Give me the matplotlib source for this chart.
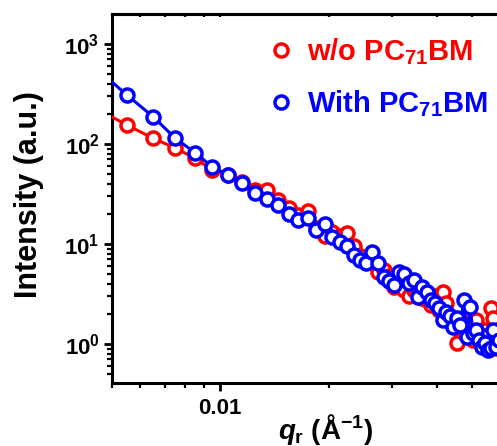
import matplotlib
matplotlib.use("Agg")
import matplotlib.pyplot as plt
from matplotlib.ticker import LogLocator, NullFormatter, FuncFormatter, LogFormatterMathtext
from matplotlib.lines import Line2D

plt.rcParams['font.family'] = ['Liberation Sans', 'DejaVu Sans']
plt.rcParams['font.weight'] = 'bold'
plt.rcParams['mathtext.fontset'] = 'custom'
plt.rcParams['mathtext.rm'] = 'Liberation Sans:bold'
plt.rcParams['mathtext.bf'] = 'Liberation Sans:bold'
plt.rcParams['mathtext.it'] = 'Liberation Sans:bold:italic'
plt.rcParams['mathtext.default'] = 'rm'

# q values (1/Angstrom)
q = [0.0045 + 0.001 * i for i in range(56)]

intensity_without = [
    228, 155, 114, 91, 72, 55, 49, 41.7, 34.7, 34.7,
    27.5, 22.9, 19.5, 21.4, 14.5, 12.0, 13.2, 12.0, 12.9, 9.5,
    7.6, 6.6, 6.6, 5.25, 5.5, 4.8, 3.7, 4.07, 3.47, 3.02,
    3.47, 3.31, 2.88, 2.75, 2.45, 3.02, 2.19, 3.31, 2.57, 1.91,
    1.66, 1.02, 1.74, 1.29, 1.55, 1.38, 1.10, 1.74, 1.10, 0.98,
    1.38, 1.23, 2.29, 1.82, 0.91, 1.23,
]

intensity_with = [
    580, 309, 188, 114, 82, 59, 49, 40.5, 32, 28,
    24.5, 20, 17.4, 18.2, 13.8, 15.8, 11.7, 10.5, 9.55, 7.76,
    6.92, 6.46, 8.32, 6.46, 4.68, 4.27, 3.89, 5.25, 5.01, 4.07,
    4.37, 2.95, 3.72, 3.31, 2.75, 2.57, 2.29, 1.74, 2.09, 1.91,
    1.48, 1.82, 1.55, 2.75, 1.17, 2.34, 1.29, 1.38, 1.10, 0.93,
    1.02, 0.87, 0.91, 1.38, 0.93, 1.10,
]

labels = ['w/o PC$_{71}$BM', 'With PC$_{71}$BM']
colors = ['#ff0000', '#0000ff']

W, H = 497, 446
fig = plt.figure(figsize=(W / 100, H / 100), dpi=100)
ax = fig.add_axes([112 / W, 1 - 383 / H, 1 - 112 / W + 0.002, (383 - 14) / H])

ms, mew, lw = 9.4, 2.5, 2.2
for y, c in zip([intensity_without, intensity_with], colors):
    ax.plot(q, y, '-', color=c, lw=lw, marker='o', ms=ms, mew=mew,
            mfc='white', mec=c, zorder=3)

ax.set_xscale('log')
ax.set_yscale('log')
ax.set_xlim(0.005, 0.0592)
ax.set_ylim(0.407, 1995)

for s in ['left', 'bottom', 'top']:
    ax.spines[s].set_linewidth(2.2)
ax.spines['right'].set_visible(False)

ax.xaxis.set_major_locator(LogLocator(base=10))
ax.xaxis.set_minor_locator(LogLocator(base=10, subs=range(2, 10)))
ax.xaxis.set_major_formatter(FuncFormatter(lambda v, p: f'{v:g}'))
ax.xaxis.set_minor_formatter(NullFormatter())
ax.yaxis.set_major_locator(LogLocator(base=10))
ax.yaxis.set_minor_locator(LogLocator(base=10, subs=range(2, 10)))
ax.yaxis.set_major_formatter(LogFormatterMathtext())
ax.yaxis.set_minor_formatter(NullFormatter())

ax.tick_params(axis='both', which='major', direction='out', length=6, width=2, labelsize=16, pad=3)
ax.tick_params(axis='x', which='major', pad=5)
ax.tick_params(axis='both', which='minor', direction='out', length=3.5, width=1.6)
ax.tick_params(axis='x', top=False)

sec = ax.secondary_xaxis('top')
sec.xaxis.set_major_locator(LogLocator(base=10))
sec.xaxis.set_minor_locator(LogLocator(base=10, subs=range(2, 10)))
sec.xaxis.set_major_formatter(NullFormatter())
sec.xaxis.set_minor_formatter(NullFormatter())
sec.tick_params(which='both', direction='in', length=2.5, width=1.6)
sec.spines['top'].set_linewidth(2.2)

ax.set_ylabel('Intensity (a.u.)', fontsize=22, fontweight='bold')
ax.yaxis.set_label_coords(-(112 - 44) / 385, (383 - 195) / 369)
ax.set_xlabel(r'$\mathit{q}_{\mathrm{r}}$ (Å$^{-1}$)', fontsize=20, fontweight='bold')
ax.xaxis.set_label_coords((325 - 112) / 385, -(412 - 383) / 369)

handles = [Line2D([], [], ls='none', marker='o', ms=ms, mew=mew, mfc='white', mec=c) for c in colors]
leg = ax.legend(handles, labels, loc='upper left', bbox_to_anchor=(272 / W, 1 - 36 / H),
                bbox_transform=fig.transFigure, frameon=False, fontsize=21,
                handlelength=0.6, handletextpad=0.6, labelspacing=0.75, borderpad=0,
                borderaxespad=0)
for t, c in zip(leg.get_texts(), colors):
    t.set_color(c)

fig.savefig('out.png', dpi=100)
